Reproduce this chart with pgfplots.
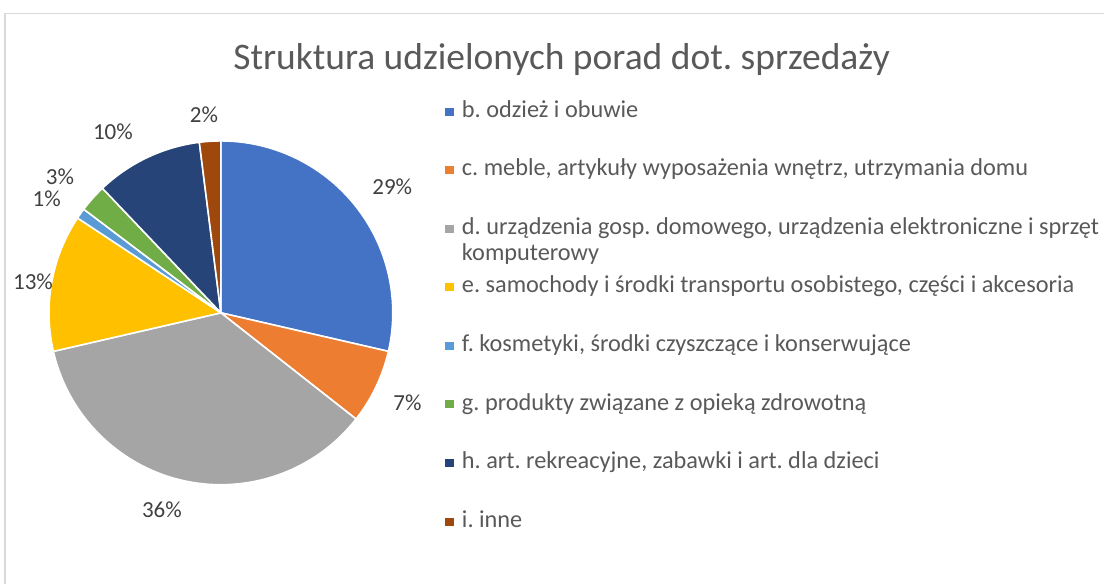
\documentclass[border=0pt]{standalone}
\usepackage{pgfplots}
\pgfplotsset{compat=1.18}
\usepackage{fontspec}
\setmainfont{Carlito}
\frenchspacing
\definecolor{cB}{HTML}{4472C4}
\definecolor{cC}{HTML}{ED7D31}
\definecolor{cD}{HTML}{A5A5A5}
\definecolor{cE}{HTML}{FFC000}
\definecolor{cF}{HTML}{5B9BD5}
\definecolor{cG}{HTML}{70AD47}
\definecolor{cH}{HTML}{264478}
\definecolor{cI}{HTML}{9E480E}
\definecolor{txt}{HTML}{595959}
\definecolor{lab}{HTML}{404040}
\definecolor{frame}{HTML}{D9D9D9}
% slice: start (percent), value (percent), colour
\newcommand\slice[3]{%
  \fill[#3, draw=white, line width=1.6bp, line join=round]
    (axis cs:0,0) -- (axis cs:{sin(3.6*(#1))},{cos(3.6*(#1))})
    arc[start angle={90-3.6*(#1)}, end angle={90-3.6*(#1+#2)}, radius=172bp] -- cycle;}
\begin{document}
\begin{tikzpicture}[x=1bp,y=1bp]
\path (0,0) rectangle (1105,584);
\draw[frame, line width=1.2bp] (5,0) -- (5,570.5) -- (1105,570.5);
\node[txt, font=\fontsize{37.5bp}{44bp}\selectfont] at (562,524) {Struktura udzielonych porad dot. sprzedaży};
\begin{axis}[at={(221bp,271bp)}, anchor=center, scale only axis,
  width=344bp, height=344bp, xmin=-1, xmax=1, ymin=-1, ymax=1,
  hide axis, clip=false]
\slice{0}{28.6}{cB}
\slice{28.6}{7.0}{cC}
\slice{35.6}{35.8}{cD}
\slice{71.4}{12.9}{cE}
\slice{84.3}{1.0}{cF}
\slice{85.3}{2.6}{cG}
\slice{87.9}{10.1}{cH}
\slice{98.0}{2.0}{cI}
\end{axis}
\begin{scope}[every node/.style={lab, font=\fontsize{23bp}{27bp}\selectfont}]
\node at (392.5,584-186.7) {29\%};
\node at (407.7,584-402.7) {7\%};
\node at (162,584-510) {36\%};
\node at (33,584-281.5) {13\%};
\node at (46.7,584-199) {1\%};
\node at (60,584-177) {3\%};
\node at (113,584-132) {10\%};
\node at (204,584-115) {2\%};
\end{scope}
\begin{scope}[every node/.style={txt, anchor=base west, inner sep=0pt, font=\fontsize{24.3bp}{26bp}\selectfont}]
\foreach \c/\t [count=\i from 0] in {cB/b. odzież i obuwie,
  cC/{c. meble, artykuły wyposażenia wnętrz, utrzymania domu},
  cD/{d. urządzenia gosp. domowego, urządzenia elektroniczne i sprzęt},
  cE/{e. samochody i środki transportu osobistego, części i akcesoria},
  cF/{f. kosmetyki, środki czyszczące i konserwujące},
  cG/g. produkty związane z opieką zdrowotną,
  cH/h. art. rekreacyjne{,} zabawki i art. dla dzieci,
  cI/i. inne}{
  \fill[\c] (445,584-107.7-58.6*\i) rectangle (454,584-115.7-58.6*\i);
  \node at (462,584-117.3-58.6*\i) {\t};
}
\node at (462,584-117.3-58.6*2-26) {komputerowy};
\end{scope}
\end{tikzpicture}
\end{document}
